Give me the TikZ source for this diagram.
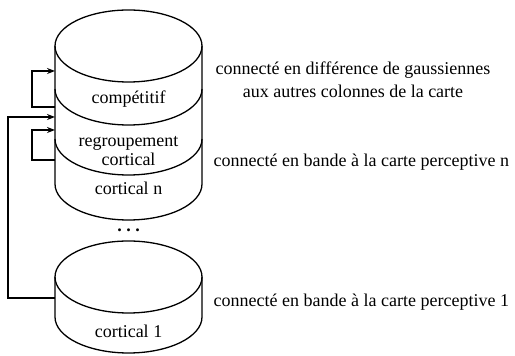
\documentclass[tikz,border=0pt]{standalone}
\usepackage{fontspec}
\setmainfont{Liberation Serif}
\usetikzlibrary{arrows.meta}

\tikzset{
  layer/.style={inner sep=0pt, font=\fontsize{18}{19}\selectfont, align=center},
  note/.style={inner sep=0pt, font=\fontsize{18}{23}\selectfont, align=center},
  link/.style={-{Stealth[length=8pt,width=6pt]}},
}

\begin{document}
\begin{tikzpicture}[x=1pt, y=1pt, line width=1.3pt]
        \useasboundingbox (0,0) rectangle (515,356);

        % Column n
        \draw (128.5,310) ellipse [x radius=73.5, y radius=36];
        \draw (55,310) -- (55,172) arc [start angle=180, end angle=360, x radius=73.5, y radius=36] -- (202,310);
        \draw (55,267) arc [start angle=180, end angle=360, x radius=73.5, y radius=36];
        \draw (55,217) arc [start angle=180, end angle=360, x radius=73.5, y radius=36];

        \node[layer, anchor=base] (comp) at (128.5,252) {compétitif};
        \node[layer] (regr) at (128.5,205) {regroupement\\cortical};
        \node[layer, anchor=base] (cortn) at (128.5,161) {cortical n};

        \node[layer, anchor=base] (dots) at (128.5,124.5) {\bfseries .\ .\ .};

        % Column 1
        \draw (128.5,79) ellipse [x radius=73.5, y radius=36];
        \draw (55,79) -- (55,39) arc [start angle=180, end angle=360, x radius=73.5, y radius=36] -- (202,79);

        \node[layer, anchor=base] (cort1) at (128.5,18) {cortical 1};

        % Notes
        \node[note] (dog) at (353,276.5) {connecté en différence de gaussiennes\\aux autres colonnes de la carte};
        \node[note, anchor=base west] (bandn) at (213,189) {connecté en bande à la carte perceptive n};
        \node[note, anchor=base west] (band1) at (213,49) {connecté en bande à la carte perceptive 1};

        % Connections
        \coordinate (comp-in) at (55,285);
        \coordinate (comp-out) at (55,249);
        \coordinate (cortn-in) at (55,239);
        \coordinate (regr-in) at (55,226);
        \coordinate (regr-out) at (55,196);
        \coordinate (cort1-out) at (55,58);

        \draw[link] (comp-out) -- ++(-23,0) |- (comp-in);
        \draw[link] (regr-out) -- ++(-23,0) |- (regr-in);
        \draw[link] (cort1-out) -- ++(-47,0) |- (cortn-in);

\end{tikzpicture}
\end{document}
